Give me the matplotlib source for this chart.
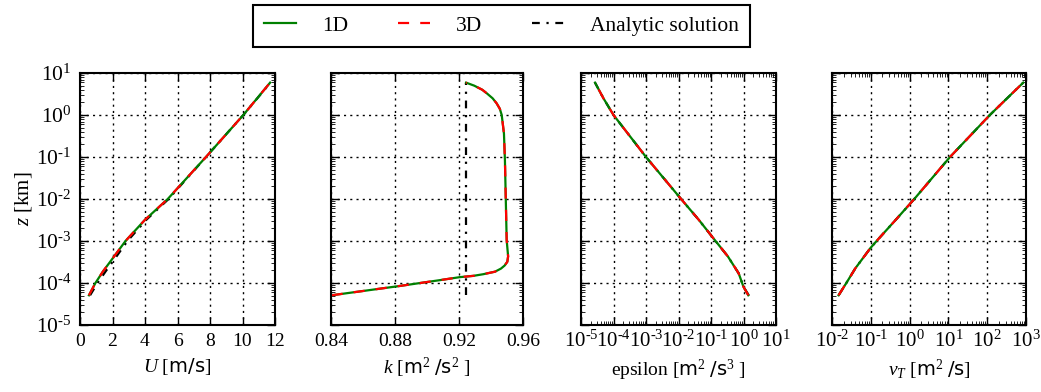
import matplotlib
matplotlib.use('Agg')
import matplotlib.pyplot as plt
import matplotlib.ticker as ticker
import numpy as np

plt.rcParams['font.family'] = ['Liberation Serif', 'DejaVu Serif']
plt.rcParams['mathtext.fontset'] = 'custom'
plt.rcParams['mathtext.rm'] = 'Liberation Serif'
plt.rcParams['mathtext.it'] = 'Liberation Serif:italic'
plt.rcParams['mathtext.bf'] = 'Liberation Serif:bold'
plt.rcParams['mathtext.sf'] = 'DejaVu Sans'
plt.rcParams['axes.unicode_minus'] = False
plt.rcParams['font.size'] = 14
plt.rcParams['xtick.direction'] = 'in'
plt.rcParams['ytick.direction'] = 'in'
plt.rcParams['xtick.top'] = True
plt.rcParams['ytick.right'] = True
plt.rcParams['xtick.major.size'] = 6
plt.rcParams['ytick.major.size'] = 6
plt.rcParams['xtick.minor.size'] = 3
plt.rcParams['ytick.minor.size'] = 3
plt.rcParams['xtick.major.width'] = 1.0
plt.rcParams['ytick.major.width'] = 1.0
plt.rcParams['axes.linewidth'] = 1.5
plt.rcParams['xtick.major.pad'] = 6
plt.rcParams['ytick.major.pad'] = 6

# ---- U profile [m/s] vs z [km]
z_U = [5.1e-5, 1e-4, 1.9e-4, 3.5e-4, 1e-3, 3.2e-3, 1e-2, 1e-1, 1.0, 5.9]
U_1d = [0.55, 0.95, 1.42, 1.93, 2.8, 4.0, 5.4, 7.75, 10.05, 11.7]
U_3d = [0.55, 0.95, 1.42, 1.93, 2.8, 4.0, 5.4, 7.75, 10.05, 11.7]
U_an = [0.62, 1.08, 1.58, 2.08, 2.92, 4.08, 5.45, 7.75, 10.05, 11.72]

# ---- k profile [m2/s2]
z_k = [5.1e-5, 8.5e-5, 1.17e-4, 1.38e-4, 1.48e-4, 1.62e-4, 1.86e-4, 2.2e-4, 2.6e-4,
       3.2e-4, 4.3e-4, 1.05e-3, 8.5e-2, 0.36, 1.0, 1.41, 1.9, 2.5, 3.3, 4.0, 5.0, 5.9]
k_1d = [0.8404, 0.883, 0.9081, 0.9206, 0.929, 0.9352, 0.9425, 0.9462, 0.9485,
        0.9502, 0.9507, 0.9498, 0.9487, 0.9481, 0.9467, 0.9455, 0.9435, 0.941,
        0.9373, 0.9345, 0.9295, 0.9244]
k_3d = [0.8404, 0.883, 0.9081, 0.9206, 0.929, 0.9352, 0.9425, 0.9462, 0.9485,
        0.9502, 0.9507, 0.9498, 0.9487, 0.9481, 0.9467, 0.9455, 0.9435, 0.941,
        0.9373, 0.9345, 0.9295, 0.9244]
z_k_an = [5.1e-5, 5.9]
k_an = [0.9245, 0.9245]

# ---- epsilon [m2/s3]
z_eps = [5.1e-5, 8.1e-5, 1.7e-4, 4.3e-4, 1e-3, 3.2e-3, 1e-2, 1e-1, 1.0, 2.5, 5.9]
eps_1d = [1.41, 1.0, 0.71, 0.33, 0.138, 0.042, 0.012, 1.0e-3, 1.0e-4, 4.9e-5, 2.7e-5]
eps_3d = [1.41, 1.0, 0.71, 0.33, 0.138, 0.042, 0.012, 1.0e-3, 1.0e-4, 4.9e-5, 2.7e-5]
eps_an = [1.45, 1.0, 0.71, 0.33, 0.138, 0.042, 0.012, 1.0e-3, 1.0e-4, 4.9e-5, 2.7e-5]

# ---- nu_T [m2/s]
z_nu = [5.1e-5, 1.07e-4, 2.24e-4, 6.8e-4, 1e-3, 3.2e-3, 1e-2, 1e-1, 1.0, 5.9]
nu_1d = [0.0148, 0.0245, 0.040, 0.098, 0.141, 0.44, 1.32, 11.0, 117.0, 850.0]
nu_3d = [0.0148, 0.0245, 0.040, 0.098, 0.141, 0.44, 1.32, 11.0, 117.0, 850.0]
nu_an = [0.0148, 0.0245, 0.040, 0.098, 0.141, 0.44, 1.32, 11.0, 117.0, 850.0]

W, H = 1041, 392
fig = plt.figure(figsize=(W / 100.0, H / 100.0), dpi=100)

bottom = 1 - 325.0 / H
height = (325.0 - 73.0) / H
lefts = [80, 331, 581, 832]
widths = [195, 192, 195, 194]
axs = [fig.add_axes([l / float(W), bottom, w / float(W), height]) for l, w in zip(lefts, widths)]

g_kw = dict(color='green', lw=1.6, ls='-')
r_kw = dict(color='red', lw=1.6, ls=(0, (5, 5)))
k_kw = dict(color='black', lw=1.6, ls=(0, (3.5, 3, 1, 3)))

def pow10(v, pos):
  # hyphen style exponent like the old matplotlib output
  return r'$10^{\text{%d}}$' % int(round(np.log10(v)))

ax = axs[0]
ax.plot(U_an, z_U, **k_kw)
ax.plot(U_1d, z_U, **g_kw)
ax.plot(U_3d, z_U, **r_kw)
ax.set_xlim(0, 12)
ax.set_xticks([0, 2, 4, 6, 8, 10, 12])
ax.set_xlabel(r'$U$ [$\mathsf{m/s}$]')
ax.set_ylabel(r'$z$ [km]', fontsize=15)
ax.yaxis.set_label_coords(-0.235, 0.5)

ax = axs[1]
ax.plot(k_an, z_k_an, **k_kw)
ax.plot(k_1d, z_k, **g_kw)
ax.plot(k_3d, z_k, **r_kw)
ax.set_xlim(0.84, 0.96)
ax.set_xticks([0.84, 0.88, 0.92, 0.96])
ax.set_xlabel(r'$k$ [$\mathsf{m}^2\ \mathsf{/s}^2$ ]')

ax = axs[2]
ax.plot(eps_an, z_eps, **k_kw)
ax.plot(eps_1d, z_eps, **g_kw)
ax.plot(eps_3d, z_eps, **r_kw)
ax.set_xscale('log')
ax.set_xlim(1e-5, 1e1)
ax.set_xticks([1e-5, 1e-4, 1e-3, 1e-2, 1e-1, 1e0, 1e1])
ax.set_xlabel(r'epsilon [$\mathsf{m}^2\ \mathsf{/s}^3$ ]')

ax = axs[3]
ax.plot(nu_an, z_nu, **k_kw)
ax.plot(nu_1d, z_nu, **g_kw)
ax.plot(nu_3d, z_nu, **r_kw)
ax.set_xscale('log')
ax.set_xlim(1e-2, 1e3)
ax.set_xticks([1e-2, 1e-1, 1e0, 1e1, 1e2, 1e3])
ax.set_xlabel(r'$\nu_T$ [$\mathsf{m}^2\ \mathsf{/s}$]')

minor = lambda: ticker.LogLocator(base=10, subs=np.arange(2, 10), numticks=100)
for i, ax in enumerate(axs):
    ax.set_yscale('log')
    ax.set_ylim(1e-5, 1e1)
    ax.set_yticks([1e-5, 1e-4, 1e-3, 1e-2, 1e-1, 1e0, 1e1])
    ax.yaxis.set_major_formatter(ticker.FuncFormatter(pow10))
    ax.yaxis.set_minor_locator(minor())
    ax.yaxis.set_minor_formatter(ticker.NullFormatter())
    ax.tick_params(axis='y', labelsize=15.5)
    if i >= 2:
        ax.xaxis.set_major_formatter(ticker.FuncFormatter(pow10))
        ax.xaxis.set_minor_locator(minor())
        ax.xaxis.set_minor_formatter(ticker.NullFormatter())
        ax.tick_params(axis='x', labelsize=15, pad=4)
    else:
        ax.tick_params(axis='x', labelsize=14)
    ax.grid(True, which='major', color='black', ls=(0, (1.5, 3)), lw=1.0)
    if i > 0:
        ax.tick_params(labelleft=False)

handles = [plt.Line2D([], [], **g_kw), plt.Line2D([], [], **r_kw), plt.Line2D([], [], **k_kw)]
leg = fig.legend(handles, ['1D', '3D', 'Analytic solution'], loc='center',
                 bbox_to_anchor=(501.5 / W, 1 - 26.0 / H), ncol=3, fontsize=15.5,
                 fancybox=False, framealpha=1, edgecolor='black',
                 handlelength=1.5, columnspacing=2.3, handletextpad=1.2,
                 borderpad=0.5)
leg.get_frame().set_linewidth(1.5)

fig.savefig('out.png', dpi=100)
